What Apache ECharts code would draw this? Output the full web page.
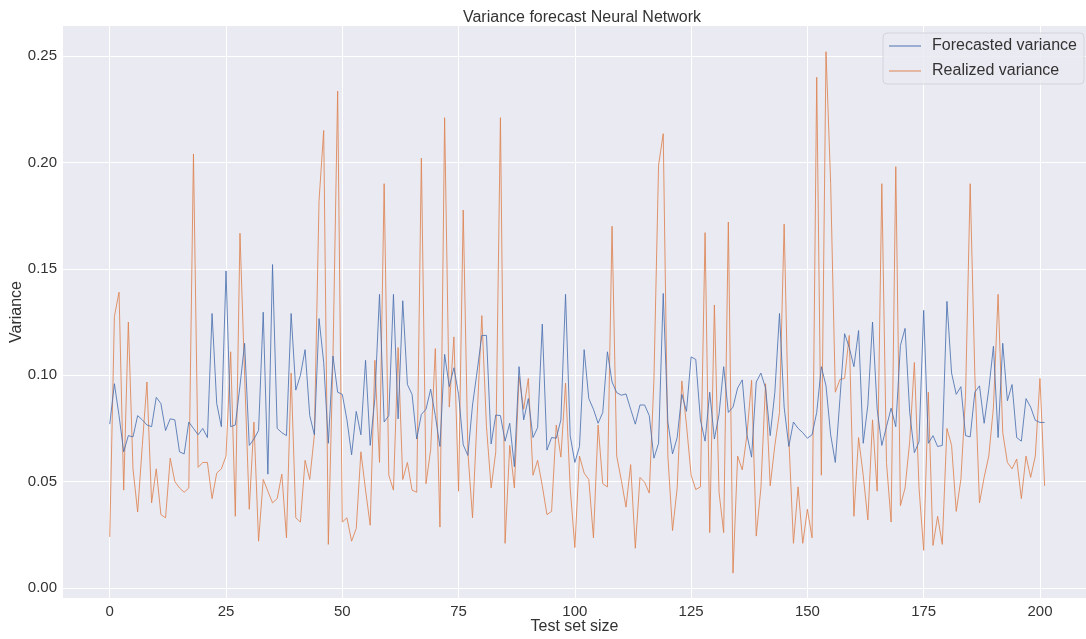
<!DOCTYPE html>
<html>
<head>
<meta charset="utf-8">
<script src="https://cdn.jsdelivr.net/npm/echarts@6/dist/echarts.min.js"></script>
<style>
  html, body { margin: 0; padding: 0; background: #fff; }
  #main { width: 1086px; height: 639px; }
</style>
</head>
<body>
<div id="main"></div>
<script>
// forecasted variance (neural network), one value per test point
var forecasted = [
  0.077, 0.096, 0.081, 0.064, 0.0716, 0.071, 0.081, 0.079, 0.0766, 0.0758,
  0.0896, 0.0867, 0.074, 0.0795, 0.079, 0.064, 0.063, 0.078, 0.075, 0.072,
  0.075, 0.0707, 0.129, 0.0867, 0.0758, 0.149, 0.0758, 0.0766, 0.095, 0.115,
  0.067, 0.070, 0.074, 0.1296, 0.0535, 0.152, 0.075, 0.073, 0.0716, 0.129,
  0.093, 0.100, 0.112, 0.081, 0.072, 0.1266, 0.106, 0.068, 0.109, 0.092,
  0.091, 0.079, 0.0626, 0.083, 0.072, 0.107, 0.067, 0.089, 0.138, 0.078,
  0.081, 0.138, 0.0795, 0.135, 0.0956, 0.091, 0.070, 0.0816, 0.084, 0.0934,
  0.081, 0.0665, 0.1098, 0.0946, 0.1035, 0.091, 0.0673, 0.0623, 0.086, 0.102,
  0.1187, 0.1187, 0.0677, 0.0813, 0.081, 0.069, 0.0774, 0.057, 0.104, 0.079,
  0.089, 0.0707, 0.0754, 0.124, 0.0648, 0.0707, 0.0704, 0.079, 0.138, 0.0715,
  0.059, 0.0665, 0.112, 0.089, 0.084, 0.0774, 0.0825, 0.111, 0.0968, 0.0918,
  0.0906, 0.0912, 0.084, 0.077, 0.086, 0.086, 0.081, 0.061, 0.068, 0.1384,
  0.078, 0.063, 0.0707, 0.091, 0.083, 0.1086, 0.1074, 0.079, 0.069, 0.092,
  0.070, 0.0816, 0.104, 0.0825, 0.085, 0.094, 0.0978, 0.072, 0.0615, 0.0968,
  0.101, 0.094, 0.0716, 0.092, 0.129, 0.085, 0.0665, 0.078, 0.075, 0.073,
  0.0704, 0.072, 0.0825, 0.104, 0.095, 0.072, 0.059, 0.089, 0.1195, 0.113,
  0.104, 0.121, 0.068, 0.086, 0.125, 0.084, 0.067, 0.0758, 0.0845, 0.0758,
  0.114, 0.122, 0.0825, 0.0636, 0.0687, 0.1305, 0.068, 0.0716, 0.0665, 0.067,
  0.1347, 0.101, 0.091, 0.0946, 0.0716, 0.071, 0.092, 0.095, 0.0774, 0.0934,
  0.1136, 0.0707, 0.115, 0.088, 0.0956, 0.0707, 0.069, 0.089, 0.085, 0.0788,
  0.0778, 0.0778
];

// realized variance
var realized = [
  0.024, 0.1276, 0.139, 0.046, 0.125, 0.056, 0.0357, 0.067, 0.0968, 0.040,
  0.056, 0.0345, 0.033, 0.061, 0.050, 0.047, 0.045, 0.047, 0.204, 0.0567,
  0.059, 0.059, 0.042, 0.054, 0.056, 0.062, 0.111, 0.0337, 0.1667, 0.100,
  0.037, 0.078, 0.022, 0.051, 0.0455, 0.040, 0.042, 0.0535, 0.0236, 0.101,
  0.033, 0.031, 0.060, 0.051, 0.072, 0.182, 0.215, 0.0205, 0.109, 0.2335,
  0.031, 0.033, 0.022, 0.028, 0.064, 0.046, 0.0295, 0.107, 0.059, 0.190,
  0.053, 0.046, 0.113, 0.051, 0.059, 0.046, 0.045, 0.202, 0.049, 0.065,
  0.1125, 0.0286, 0.221, 0.085, 0.118, 0.0455, 0.1776, 0.064, 0.033, 0.081,
  0.128, 0.0758, 0.047, 0.064, 0.221, 0.021, 0.067, 0.047, 0.0993, 0.084,
  0.0985, 0.053, 0.060, 0.048, 0.0345, 0.036, 0.0766, 0.0615, 0.0963, 0.047,
  0.019, 0.062, 0.054, 0.051, 0.0236, 0.0766, 0.049, 0.0475, 0.170, 0.062,
  0.0505, 0.038, 0.058, 0.0187, 0.052, 0.0497, 0.0446, 0.0976, 0.1987, 0.2135,
  0.062, 0.027, 0.047, 0.0973, 0.0766, 0.053, 0.0463, 0.0475, 0.167, 0.026,
  0.133, 0.045, 0.026, 0.172, 0.007, 0.062, 0.0555, 0.072, 0.0976, 0.0244,
  0.047, 0.096, 0.048, 0.067, 0.0825, 0.171, 0.0707, 0.021, 0.0475, 0.021,
  0.037, 0.0236, 0.240, 0.053, 0.252, 0.190, 0.092, 0.098, 0.0985, 0.1187,
  0.0337, 0.0707, 0.053, 0.032, 0.079, 0.0455, 0.190, 0.059, 0.031, 0.198,
  0.0387, 0.047, 0.069, 0.106, 0.047, 0.0177, 0.092, 0.020, 0.0337, 0.0205,
  0.075, 0.067, 0.036, 0.051, 0.090, 0.190, 0.100, 0.040, 0.052, 0.062,
  0.085, 0.138, 0.073, 0.059, 0.056, 0.0606, 0.042, 0.062, 0.052, 0.062,
  0.0985, 0.048
];

var xTicks = [0, 25, 50, 75, 100, 125, 150, 175, 200];
var yTicks = [0, 0.05, 0.10, 0.15, 0.20, 0.25];

var seriesNames = ["Forecasted variance", "Realized variance"];

function toPairs(arr) {
    var out = [];
    for (var i = 0; i < arr.length; i++) {
        out.push([i, arr[i]]);
    }
    return out;
}

var chart = echarts.init(document.getElementById("main"));
var font = "Liberation Sans, Arial, sans-serif";
var textColor = "#333";

var option = {
    animation: false,
    backgroundColor: "#fff",
    textStyle: { fontFamily: font },
    title: {
        text: "Variance forecast Neural Network",
        left: 577,
        textAlign: "center",
        top: 5,
        textStyle: { fontSize: 16, fontWeight: "normal", color: textColor, fontFamily: font },
    },
    legend: {
        orient: "vertical",
        right: 2,
        top: 33,
        padding: [5, 7, 5, 6],
        icon: "rect",
        itemWidth: 32,
        itemHeight: 1,
        itemGap: 9,
        backgroundColor: "rgba(234,234,242,0.85)",
        borderColor: "#d4d4dc",
        borderWidth: 1,
        borderRadius: 4,
        textStyle: { fontSize: 16, color: textColor, fontFamily: font, lineHeight: 14, padding: [0, 0, 0, 6] },
        data: seriesNames,
    },
    grid: {
        show: true,
        left: 63,
        right: 0,
        top: 26,
        bottom: 41,
        outerBoundsMode: "none",
        containLabel: false,
        backgroundColor: "#EAEAF2",
        borderWidth: 0,
    },
    xAxis: {
        type: "value",
        min: -10.05,
        max: 209.9,
        name: "Test set size",
        nameLocation: "middle",
        nameGap: 21,
        nameMoveOverlap: false,
        nameTextStyle: { fontSize: 16, color: textColor, fontFamily: font },
        axisLine: { show: false },
        axisTick: { show: false, customValues: xTicks },
        axisLabel: {
            customValues: xTicks,
            fontSize: 15,
            color: textColor,
            margin: 6,
            fontFamily: font,
        },
        splitLine: { show: true, lineStyle: { color: "#fff", width: 1 } },
    },
    yAxis: {
        type: "value",
        min: -0.0047,
        max: 0.2641,
        name: "Variance",
        nameLocation: "middle",
        nameGap: 38,
        nameMoveOverlap: false,
        nameTextStyle: { fontSize: 16, color: textColor, fontFamily: font },
        axisLine: { show: false },
        axisTick: { show: false, customValues: yTicks },
        axisLabel: {
            customValues: yTicks,
            fontSize: 15,
            color: textColor,
            margin: 6,
            fontFamily: font,
            formatter: function (v) { return v.toFixed(2); },
        },
        splitLine: { show: true, lineStyle: { color: "#fff", width: 1 } },
    },
    series: [
        {
            name: seriesNames[0],
            type: "line",
            symbol: "none",
            data: toPairs(forecasted),
            lineStyle: { color: "#4C72B0", width: 1, opacity: 0.85 },
            itemStyle: { color: "#4C72B0" },
            z: 3,
        },
        {
            name: seriesNames[1],
            type: "line",
            symbol: "none",
            data: toPairs(realized),
            lineStyle: { color: "#DD8452", width: 1, opacity: 0.85 },
            itemStyle: { color: "#DD8452" },
            z: 2,
        },
    ],
};

option && chart.setOption(option);
</script>
</body>
</html>
